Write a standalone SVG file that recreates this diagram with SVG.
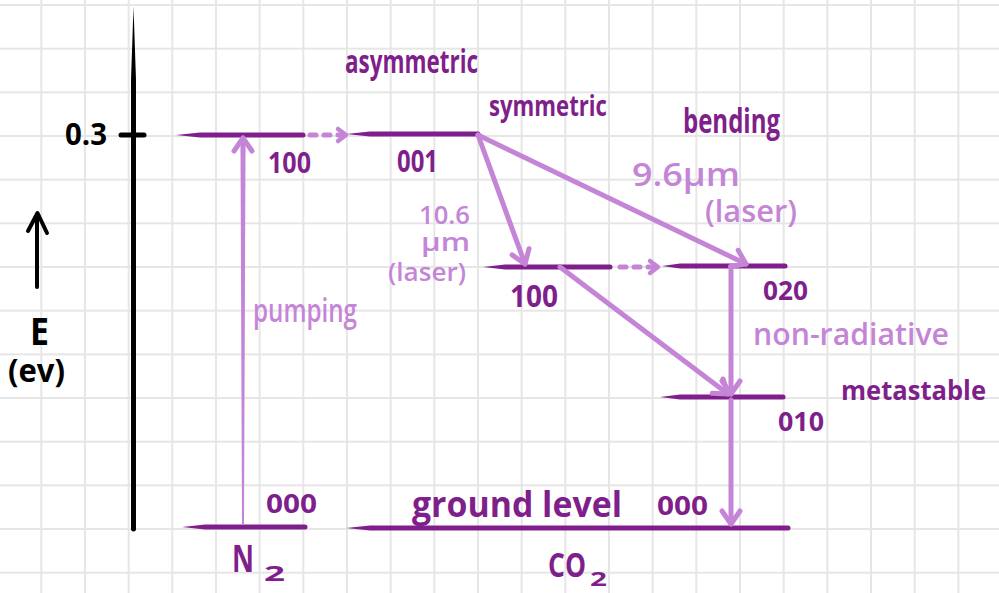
<svg xmlns="http://www.w3.org/2000/svg" width="999" height="593" viewBox="0 0 999 593">
<style>
.d{fill:#7f1f8b;font-family:"Open Sans","Noto Sans",sans-serif;font-weight:700}
.l{fill:#c585d7;font-family:"Open Sans","Noto Sans",sans-serif;font-weight:600}
.k{fill:#000;font-family:"Open Sans","Noto Sans",sans-serif;font-weight:700}
.lvl{fill:#7f1f8b}
.arr{stroke:#c585d7;stroke-width:5;fill:none;stroke-linecap:round;marker-end:url(#head)}
.dot{stroke:#c585d7;stroke-width:5;fill:none;stroke-linecap:round;stroke-dasharray:6 8;marker-end:url(#small)}
</style>
<defs>
<pattern id="grid" x="40.3" y="4" width="43.67" height="43.67" patternUnits="userSpaceOnUse">
<path d="M0,1 H43.67 M1,0 V43.67" stroke="#e6e6e6" stroke-width="2" fill="none"/>
</pattern>
<marker id="head" viewBox="-20 -15 30 30" markerWidth="30" markerHeight="30" refX="0" refY="0" orient="auto" markerUnits="userSpaceOnUse">
<path d="M-13,-9 L0,0 L-13,9" stroke="#c585d7" stroke-width="5" fill="none" stroke-linecap="round" stroke-linejoin="round"/>
</marker>
<marker id="small" viewBox="-20 -15 30 30" markerWidth="30" markerHeight="30" refX="0" refY="0" orient="auto" markerUnits="userSpaceOnUse">
<path d="M-8,-6 L0,0 L-8,6" stroke="#c585d7" stroke-width="4.5" fill="none" stroke-linecap="round" stroke-linejoin="round"/>
</marker>
</defs>
<rect width="999" height="593" fill="#fff"/>
<rect width="999" height="593" fill="url(#grid)"/>

<g id="axis">
<path d="M133.5,7 L136,80 L136,530 Q133.5,533 131,530 L131,80 Z" fill="#000"/>
<line x1="121" y1="135" x2="144" y2="135" stroke="#000" stroke-width="5" stroke-linecap="round"/>
<text class="k" x="65" y="145" font-size="30" textLength="42" lengthAdjust="spacingAndGlyphs">0.3</text>
<line x1="37" y1="287" x2="37" y2="215" stroke="#000" stroke-width="4" stroke-linecap="round"/>
<path d="M28,231 L37.5,213 L47,233" stroke="#000" stroke-width="4" fill="none" stroke-linecap="round" stroke-linejoin="round"/>
<text class="k" x="30" y="345" font-size="38" textLength="19" lengthAdjust="spacingAndGlyphs">E</text>
<text class="k" x="8" y="382" font-size="32" textLength="57" lengthAdjust="spacingAndGlyphs">(ev)</text>
</g>

<g id="n2-100">
<path class="lvl" d="M176,135 L200,132.5 L303,132.5 A2.5,2.5 0 0 1 303,137.5 L200,137.5 Z"/>
<text class="d" x="268" y="173" font-size="28" textLength="43" lengthAdjust="spacingAndGlyphs">100</text>
</g>
<g id="n2-000">
<path class="lvl" d="M182,527 L205,524.5 L305,524.5 A2.5,2.5 0 0 1 305,529.5 L205,529.5 Z"/>
<text class="d" x="266" y="513" font-size="26" textLength="51" lengthAdjust="spacingAndGlyphs">000</text>
<text class="d" x="232" y="572" font-size="38" textLength="22" lengthAdjust="spacingAndGlyphs">N</text>
<text class="d" x="264" y="581" font-size="22" textLength="21" lengthAdjust="spacingAndGlyphs">2</text>
</g>
<g id="co2-001">
<path class="lvl" d="M346,134 L370,131.5 L478,131.5 A2.5,2.5 0 0 1 478,136.5 L370,136.5 Z"/>
<text class="d" x="345" y="73" font-size="33" textLength="133" lengthAdjust="spacingAndGlyphs">asymmetric</text>
<text class="d" x="397" y="172" font-size="30" textLength="41" lengthAdjust="spacingAndGlyphs">001</text>
</g>
<g id="co2-100">
<path class="lvl" d="M483,267 L505,264.5 L610,264.5 A2.5,2.5 0 0 1 610,269.5 L505,269.5 Z"/>
<text class="d" x="489" y="116" font-size="29" textLength="118" lengthAdjust="spacingAndGlyphs">symmetric</text>
<text class="d" x="510" y="307" font-size="30" textLength="48" lengthAdjust="spacingAndGlyphs">100</text>
</g>
<g id="co2-020">
<path class="lvl" d="M662,266 L680,263.5 L785,263.5 A2.5,2.5 0 0 1 785,268.5 L680,268.5 Z"/>
<text class="d" x="683" y="133" font-size="34" textLength="97" lengthAdjust="spacingAndGlyphs">bending</text>
<text class="d" x="763" y="300" font-size="27" textLength="45" lengthAdjust="spacingAndGlyphs">020</text>
</g>
<g id="co2-010">
<path class="lvl" d="M660,397 L680,394.5 L783,394.5 A2.5,2.5 0 0 1 783,399.5 L680,399.5 Z"/>
<text class="d" x="841" y="400" font-size="26" textLength="145" lengthAdjust="spacingAndGlyphs">metastable</text>
<text class="d" x="778" y="431" font-size="27" textLength="46" lengthAdjust="spacingAndGlyphs">010</text>
</g>
<g id="co2-000">
<path class="lvl" d="M346,528 L370,525.5 L788,525.5 A2.5,2.5 0 0 1 788,530.5 L370,530.5 Z"/>
<text class="d" x="412" y="517" font-size="36" textLength="210" lengthAdjust="spacingAndGlyphs">ground level</text>
<text class="d" x="657" y="515" font-size="26" textLength="51" lengthAdjust="spacingAndGlyphs">000</text>
<text class="d" x="548" y="577" font-size="34" textLength="38" lengthAdjust="spacingAndGlyphs">CO</text>
<text class="d" x="590" y="586" font-size="19" textLength="17" lengthAdjust="spacingAndGlyphs">2</text>
</g>

<g id="connectors">
<path d="M242,525 L240.5,150 L245.5,150 L244,525 Z" fill="#c585d7"/>
<path class="arr" d="M243,150 L243,138"/>
<path class="dot" d="M310,135 L346,135"/>
<path class="arr" d="M478,135 L525,264"/>
<path class="arr" d="M478,135 L746,264"/>
<path class="dot" d="M620,267 L658,267"/>
<path class="arr" d="M560,267 L728,394"/>
<path class="arr" d="M731,270 L731,394"/>
<path class="arr" d="M731,400 L731,524"/>
<text class="l" x="253" y="322" font-size="33" textLength="104" lengthAdjust="spacingAndGlyphs">pumping</text>
<text class="l" x="419" y="224" font-size="26" textLength="51" lengthAdjust="spacingAndGlyphs">10.6</text>
<text class="l" x="421" y="251" font-size="26" textLength="49" lengthAdjust="spacingAndGlyphs">μm</text>
<text class="l" x="388" y="281" font-size="26" textLength="78" lengthAdjust="spacingAndGlyphs">(laser)</text>
<text class="l" x="632" y="186" font-size="33" textLength="108" lengthAdjust="spacingAndGlyphs">9.6μm</text>
<text class="l" x="705" y="222" font-size="31" textLength="92" lengthAdjust="spacingAndGlyphs">(laser)</text>
<text class="l" x="753" y="345" font-size="31" textLength="196" lengthAdjust="spacingAndGlyphs">non-radiative</text>
</g>
</svg>
